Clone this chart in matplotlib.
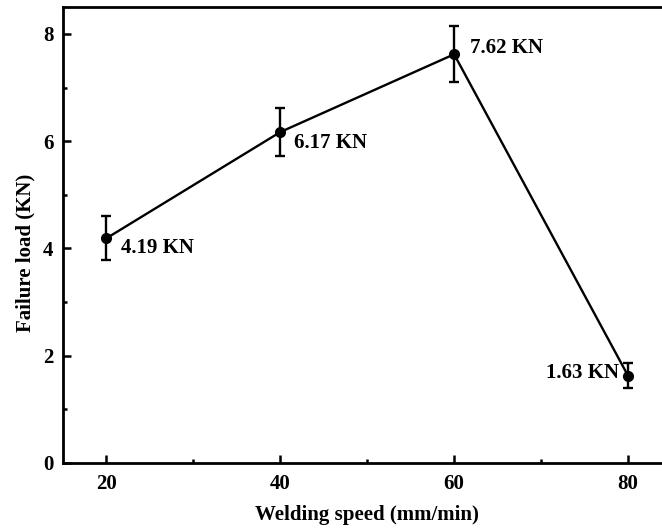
import numpy as np
import matplotlib
matplotlib.use('Agg')
import matplotlib.pyplot as plt

plt.rcParams['font.family'] = ['Liberation Serif', 'DejaVu Serif']
plt.rcParams['font.weight'] = 'bold'

# Failure load against welding speed
speed = [20, 40, 60, 80]
load = [4.19, 6.17, 7.62, 1.63]
load_err = [0.41, 0.45, 0.52, 0.23]
labels = ['4.19 KN', '6.17 KN', '7.62 KN', '1.63 KN']

fig = plt.figure(figsize=(6.62, 5.32), dpi=100)
ax = fig.add_axes([0.0952, 0.1297, 0.919, 0.857])

ax.errorbar(speed, load, yerr=load_err, color='black', lw=1.7,
            marker='o', ms=7, elinewidth=1.7, capsize=3.8, capthick=1.7)

# label offsets in pixels (dx, dy, horizontal alignment)
offsets = [(15, -10, 'left'), (14, -11, 'left'), (16, 6, 'left'), (-9, 3, 'right')]
for x, y, txt, (dx, dy, ha) in zip(speed, load, labels, offsets):
    ax.annotate(txt, xy=(x, y), xytext=(dx, dy), textcoords='offset pixels',
                ha=ha, va='center', fontsize=15, fontweight='bold')

ax.set_xlim(15, 85)
ax.set_ylim(0, 8.5)
ax.set_xticks([20, 40, 60, 80])
ax.set_yticks([0, 2, 4, 6, 8])
ax.set_xticks([30, 50, 70], minor=True)
ax.set_yticks([1, 3, 5, 7], minor=True)
ax.tick_params(which='both', direction='in', width=1.8, labelsize=15)
ax.tick_params(which='major', length=6)
ax.tick_params(which='minor', length=3)
ax.tick_params(axis='x', pad=8)
ax.tick_params(axis='y', pad=7)
for s in ax.spines.values():
    s.set_linewidth(2.0)

ax.set_xlabel('Welding speed (mm/min)', fontsize=15, fontweight='bold', labelpad=8)
ax.set_ylabel('Failure load (KN)', fontsize=15, fontweight='bold', labelpad=8)
ax.yaxis.set_label_coords(-0.045, 0.46)

fig.savefig('out.png', dpi=100)
